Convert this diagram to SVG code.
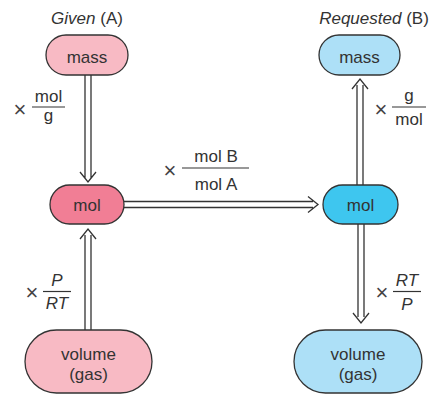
<svg xmlns="http://www.w3.org/2000/svg" width="436" height="394" viewBox="0 0 436 394">
<style>
text{font-family:"Liberation Sans",Arial,sans-serif;font-size:17px;fill:#333;text-anchor:middle}
.it{font-style:italic}
.x{font-size:22px;fill:#444}
.node{stroke:#333;stroke-width:1.3}
.pl{fill:#F8BAC4}.pd{fill:#F17E95}.bl{fill:#ADE0F7}.bd{fill:#3EC6EF}
.ln{stroke:#333;stroke-width:1.3;fill:none}
.fr{stroke:#333;stroke-width:1.2}
</style>
<rect width="436" height="394" fill="#fff"/>
<text x="87" y="24"><tspan class="it">Given</tspan> (A)</text>
<text x="374" y="24"><tspan class="it">Requested</tspan> (B)</text>
<g id="connectors">
<path class="ln" d="M85,75V178M91,75V178M80,172L88,182L96,172"/>
<path class="ln" d="M85,330V235M91,330V235M80,239L88,229L96,239"/>
<path class="ln" d="M124,201.5H313M124,207.5H313M308,196.5L318,204.5L308,212.5"/>
<path class="ln" d="M357,185V85M363,185V85M352,89L360,79L368,89"/>
<path class="ln" d="M358,224V317M364,224V317M353,313L361,323L369,313"/>
</g>
<g id="label-mass-mol">
<text class="x" x="20" y="117">×</text>
<line class="fr" x1="32" y1="107" x2="65" y2="107"/>
<text x="48.5" y="102">mol</text>
<text x="48.5" y="121">g</text>
</g>
<g id="label-mol-mol">
<text class="x" x="170" y="178">×</text>
<line class="fr" x1="182" y1="168" x2="249" y2="168"/>
<text x="216" y="162">mol B</text>
<text x="216" y="190">mol A</text>
</g>
<g id="label-g-mol">
<text class="x" x="381" y="117">×</text>
<line class="fr" x1="392" y1="107" x2="426" y2="107"/>
<text x="409" y="101">g</text>
<text x="409" y="125">mol</text>
</g>
<g id="label-p-rt">
<text class="x" x="32" y="300">×</text>
<line class="fr" x1="43" y1="291.5" x2="71" y2="291.5"/>
<text class="it" x="57" y="286">P</text>
<text class="it" x="57" y="309">RT</text>
</g>
<g id="label-rt-p">
<text class="x" x="382" y="300">×</text>
<line class="fr" x1="393" y1="291.5" x2="421" y2="291.5"/>
<text class="it" x="407" y="286">RT</text>
<text class="it" x="407" y="310">P</text>
</g>
<g id="node-mass-a"><rect class="node pl" x="46" y="35" width="82" height="40" rx="20"/><text x="87" y="63">mass</text></g>
<g id="node-mol-a"><rect class="node pd" x="50" y="185" width="74" height="39" rx="19.5"/><text x="87" y="211">mol</text></g>
<g id="node-vol-a"><rect class="node pl" x="25" y="330" width="127" height="63" rx="31.5"/><text x="88.5" y="360">volume</text><text x="88.5" y="380">(gas)</text></g>
<g id="node-mass-b"><rect class="node bl" x="319" y="35" width="81" height="40" rx="20"/><text x="359.5" y="63">mass</text></g>
<g id="node-mol-b"><rect class="node bd" x="323" y="185" width="75" height="39" rx="19.5"/><text x="360.5" y="211">mol</text></g>
<g id="node-vol-b"><rect class="node bl" x="294" y="330" width="128" height="63" rx="31.5"/><text x="358" y="360">volume</text><text x="358" y="380">(gas)</text></g>
</svg>
